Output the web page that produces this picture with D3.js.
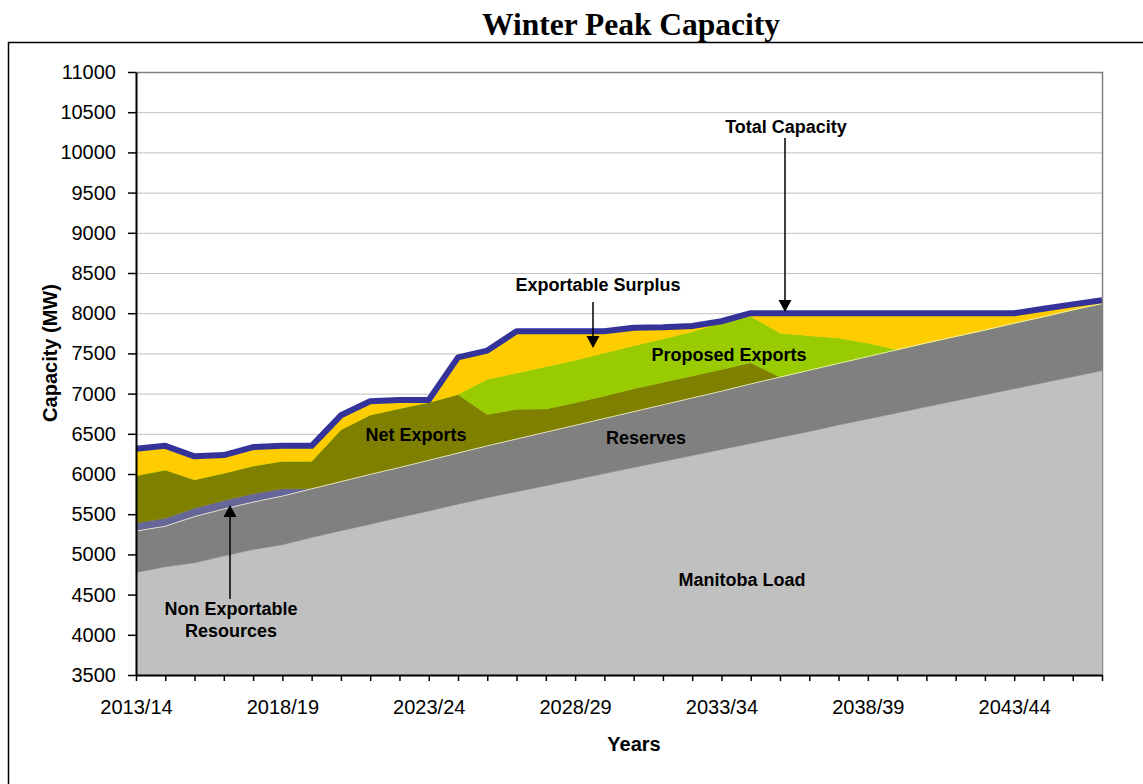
<!DOCTYPE html>
<head>
  <meta charset="utf-8">
  <style>
    body { margin: 0; background: #fff; }
    svg text { font-family: "Liberation Sans", Arial, sans-serif; fill: #000; }
    svg .tick text { font-size: 20px; }
    svg .grid { stroke: #C0C0C0; stroke-width: 1px; }
    svg .lbl { font-size: 18px; font-weight: bold; }
  </style>
</head>
<body>
<script src="https://d3js.org/d3.v7.min.js"></script>
<script>
  // categories
  var years = ["2013/14","2014/15","2015/16","2016/17","2017/18","2018/19","2019/20",
    "2020/21","2021/22","2022/23","2023/24","2024/25","2025/26","2026/27","2027/28",
    "2028/29","2029/30","2030/31","2031/32","2032/33","2033/34","2034/35","2035/36",
    "2036/37","2037/38","2038/39","2039/40","2040/41","2041/42","2042/43","2043/44",
    "2044/45","2045/46","2046/47"];
  var yTicks = [3500,4000,4500,5000,5500,6000,6500,7000,7500,8000,8500,9000,9500,10000,10500,11000];

  // series values (MW)
  var manitobaLoad = [4775,4845,4895,4980,5060,5120,5210,5295,5375,5460,5540,5625,5705,5780,5855,
    5930,6005,6080,6155,6230,6305,6380,6455,6530,6610,6685,6760,6835,6910,6985,7060,7135,7210,7285];
  var reserves = [515,505,575,585,590,605,605,610,620,620,630,635,645,655,665,675,685,695,705,715,
    725,740,750,760,765,775,785,795,800,805,815,820,830,835];
  var nonExportable = [100,100,105,105,105,90,0,0,0,0,0,0,0,0,0,0,0,0,0,0,0,0,0,0,0,0,0,0,0,0,0,0,0,0];
  var netExports = [590,600,355,340,345,345,345,645,740,735,720,730,390,370,290,280,280,285,280,275,
    270,265,0,0,0,0,0,0,0,0,0,0,0,0];
  var proposedExports = [0,0,0,0,0,0,0,0,0,0,0,0,440,450,525,530,535,535,540,550,580,575,550,430,
    315,170,0,0,0,0,0,0,0,0];
  var exportableSurplus = [335,300,290,225,235,190,190,180,170,105,30,460,355,520,440,360,270,225,
    145,70,20,40,245,280,310,370,455,370,290,210,125,100,70,40];
  var totalCapacity = [6315,6350,6220,6235,6335,6350,6350,6730,6905,6920,6920,7450,7535,7775,7775,
    7775,7775,7820,7825,7840,7900,8000,8000,8000,8000,8000,8000,8000,8000,8000,8000,8055,8110,8160];

  var keys = ["load", "reserves", "nonexp", "net", "proposed", "surplus"];
  var colors = {
    load: "#C0C0C0", reserves: "#808080", nonexp: "#666699",
    net: "#808000", proposed: "#99CC00", surplus: "#FFCC00"
  };

  var rows = years.map(function (y, i) {
    return {
      year: y,
      load: manitobaLoad[i],
      reserves: reserves[i],
      nonexp: nonExportable[i],
      net: netExports[i],
      proposed: proposedExports[i],
      surplus: exportableSurplus[i]
    };
  });

  var W = 1143, H = 784;
  var plot = { left: 136, right: 1102, top: 72, bottom: 675 };

  var svg = d3.select("body").append("svg")
      .attr("width", W)
      .attr("height", H);

  // title
  svg.append("text")
    .attr("x", 631)
    .attr("y", 35)
    .attr("text-anchor", "middle")
    .style("font-family", "'Liberation Serif', 'Times New Roman', serif")
    .style("font-weight", "bold")
    .style("font-size", "31.5px")
    .text("Winter Peak Capacity");

  // outer frame (runs off the right and bottom of the picture)
  svg.append("rect")
    .attr("x", 8.5).attr("y", 42.5)
    .attr("width", W + 20).attr("height", H + 20)
    .style("fill", "none")
    .style("stroke", "#000")
    .style("stroke-width", 1.5);

  var xScale = d3.scalePoint().domain(years).range([plot.left, plot.right]);
  var yScale = d3.scaleLinear().domain([3500, 11000]).range([plot.bottom, plot.top]).clamp(true);

  // horizontal grid
  svg.append("g").selectAll("line")
    .data(yTicks.slice(1))
    .join("line")
      .classed("grid", true)
      .attr("x1", plot.left).attr("x2", plot.right)
      .attr("y1", function (d) { return yScale(d) + 0.5; })
      .attr("y2", function (d) { return yScale(d) + 0.5; });

  // plot border: top and right in dark grey
  svg.append("path")
    .attr("d", "M" + plot.left + "," + (plot.top + 0.5) + "H" + (plot.right + 0.5) + "V" + plot.bottom)
    .style("fill", "none")
    .style("stroke", "#808080")
    .style("stroke-width", 1.5);

  // stacked areas
  var series = d3.stack().keys(keys)(rows);
  var area = d3.area()
    .x(function (d) { return xScale(d.data.year); })
    .y0(function (d) { return yScale(d[0]); })
    .y1(function (d) { return yScale(d[1]); });

  svg.append("g").selectAll("path")
    .data(series)
    .join("path")
      .attr("d", area)
      .style("fill", function (d) { return colors[d.key]; })
      .style("stroke", function (d) { return colors[d.key]; })
      .style("stroke-width", 0.5);

  // thin pale edge along top of reserves
  var resTop = d3.line()
    .x(function (d) { return xScale(d.data.year); })
    .y(function (d) { return yScale(d[1]); });
  svg.append("path")
    .attr("d", resTop(series[1]))
    .style("fill", "none")
    .style("stroke", "#F4F4D8")
    .style("stroke-width", 1)
    .style("opacity", 0.85);

  // total capacity line
  var totalLine = d3.line()
    .x(function (d, i) { return xScale(years[i]); })
    .y(function (d) { return yScale(d); });
  svg.append("path")
    .attr("d", totalLine(totalCapacity))
    .style("fill", "none")
    .style("stroke", "#333399")
    .style("stroke-width", 6)
    .style("stroke-linejoin", "round");

  // y axis
  var yAxis = d3.axisLeft(yScale)
    .tickValues(yTicks)
    .tickSize(8)
    .tickPadding(12)
    .tickSizeOuter(0)
    .tickFormat(d3.format("d"));
  var ya = svg.append("g")
    .attr("transform", "translate(" + plot.left + ",0)")
    .call(yAxis);
  ya.select(".domain").style("stroke-width", 2);
  ya.selectAll(".tick line").style("stroke-width", 1.5);

  // x axis
  var xAxis = d3.axisBottom(xScale)
    .tickSize(6)
    .tickPadding(19)
    .tickSizeOuter(0)
    .tickFormat(function (d, i) { return i % 5 === 0 ? d : ""; });
  var xa = svg.append("g")
    .attr("transform", "translate(0," + plot.bottom + ")")
    .call(xAxis);
  xa.select(".domain").style("stroke-width", 2);
  xa.selectAll(".tick line").style("stroke-width", 1.5);

  // axis titles
  svg.append("text")
    .attr("x", 634).attr("y", 751)
    .attr("text-anchor", "middle")
    .style("font-size", "20px").style("font-weight", "bold")
    .text("Years");

  svg.append("text")
    .attr("transform", "translate(57,353) rotate(-90)")
    .attr("text-anchor", "middle")
    .style("font-size", "20px").style("font-weight", "bold")
    .text("Capacity (MW)");

  // series labels
  function label(txt, x, y) {
    svg.append("text")
      .classed("lbl", true)
      .attr("x", x).attr("y", y)
      .attr("text-anchor", "middle")
      .text(txt);
  }
  label("Total Capacity", 786, 133);
  label("Exportable Surplus", 598, 291);
  label("Proposed Exports", 729, 361);
  label("Net Exports", 416, 441);
  label("Reserves", 646, 444);
  label("Manitoba Load", 742, 586);
  label("Non Exportable", 231, 615);
  label("Resources", 231, 637);

  // arrows
  function arrow(x, y1, y2) {
    var dir = y2 > y1 ? 1 : -1;
    svg.append("line")
      .attr("x1", x).attr("x2", x)
      .attr("y1", y1).attr("y2", y2 - dir * 10)
      .style("stroke", "#000").style("stroke-width", 1.5);
    svg.append("path")
      .attr("d", "M" + (x - 6.5) + "," + (y2 - dir * 12) + "L" + (x + 6.5) + "," + (y2 - dir * 12) +
        "L" + x + "," + y2 + "Z")
      .style("fill", "#000");
  }
  arrow(785, 138, 312);
  arrow(593, 302, 348);
  arrow(230, 599, 505);
</script>
</body>
</html>
